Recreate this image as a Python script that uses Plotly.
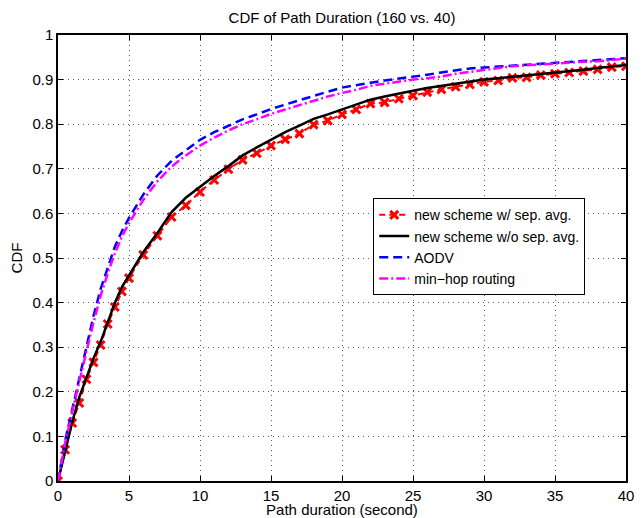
import plotly.graph_objects as go

# x positions (seconds)
x_vals = [0, 0.5, 1, 1.5, 2, 2.5, 3, 3.5, 4, 4.5, 5] + list(range(6, 41))

red_sep = [0, 0.07, 0.13, 0.175, 0.228, 0.266, 0.305, 0.352, 0.39, 0.425, 0.455,
           0.507, 0.55, 0.592, 0.618, 0.648, 0.675, 0.699, 0.72, 0.735, 0.752,
           0.766, 0.779, 0.799, 0.808, 0.822, 0.833, 0.846, 0.849, 0.857, 0.864,
           0.872, 0.878, 0.884, 0.889, 0.895, 0.898, 0.904, 0.905, 0.910, 0.913,
           0.916, 0.919, 0.923, 0.928, 0.930]

black_nosep = [0, 0.068, 0.132, 0.188, 0.234, 0.275, 0.312, 0.358, 0.399, 0.435, 0.462,
               0.513, 0.556, 0.603, 0.635, 0.66, 0.684, 0.706, 0.73, 0.748, 0.765,
               0.782, 0.797, 0.812, 0.822, 0.833, 0.845, 0.855, 0.862, 0.869, 0.875,
               0.881, 0.886, 0.891, 0.896, 0.900, 0.903, 0.906, 0.909, 0.913, 0.916,
               0.919, 0.922, 0.926, 0.929, 0.933]

aodv = [0, 0.09, 0.16, 0.23, 0.30, 0.37, 0.43, 0.48, 0.525, 0.56, 0.59,
        0.642, 0.685, 0.718, 0.741, 0.765, 0.782, 0.797, 0.811, 0.822, 0.834,
        0.844, 0.854, 0.863, 0.873, 0.882, 0.888, 0.893, 0.898, 0.902, 0.907,
        0.911, 0.916, 0.920, 0.925, 0.927, 0.929, 0.932, 0.934, 0.935, 0.937,
        0.939, 0.942, 0.944, 0.946, 0.948]

minhop = [0, 0.085, 0.155, 0.225, 0.29, 0.355, 0.415, 0.465, 0.51, 0.548, 0.578,
          0.63, 0.672, 0.705, 0.73, 0.752, 0.77, 0.786, 0.80, 0.811, 0.823,
          0.833, 0.843, 0.852, 0.862, 0.870, 0.877, 0.886, 0.891, 0.896, 0.900,
          0.903, 0.907, 0.913, 0.917, 0.921, 0.926, 0.930, 0.932, 0.934, 0.937,
          0.938, 0.940, 0.941, 0.944, 0.947]

x_ticks = list(range(0, 41, 5))
y_ticks = [round(i * 0.1, 1) for i in range(11)]

FONT = "Liberation Sans, Arial, Helvetica, sans-serif"

fig = go.Figure()
fig.add_trace(go.Scatter(
    x=x_vals, y=red_sep, mode="lines+markers", name="new scheme w/ sep. avg.",
    line=dict(color="#FF0000", width=2, dash="6px,4px"),
    marker=dict(symbol="x-thin", size=8, color="#FF0000",
                line=dict(color="#FF0000", width=3)),
))
fig.add_trace(go.Scatter(
    x=x_vals, y=black_nosep, mode="lines", name="new scheme w/o sep. avg.",
    line=dict(color="#000000", width=2.5),
))
fig.add_trace(go.Scatter(
    x=x_vals, y=aodv, mode="lines", name="AODV",
    line=dict(color="#0000FF", width=2.5, dash="9px,5px"),
))
fig.add_trace(go.Scatter(
    x=x_vals, y=minhop, mode="lines", name="min\u2212hop routing",
    line=dict(color="#FF00FF", width=2.5, dash="9px,3px,2px,3px"),
))

axis_common = dict(
    showline=True, linecolor="black", linewidth=1.5, mirror="ticks",
    ticks="inside", ticklen=5, tickwidth=1, tickcolor="black",
    showgrid=True, gridcolor="rgb(90,90,90)", gridwidth=1, griddash="1px,4px",
    zeroline=False, automargin=False,
    tickfont=dict(family=FONT, size=15, color="black"),
)

fig.update_xaxes(
    range=[0, 40], tickmode="array", tickvals=x_ticks,
    title=dict(text="Path duration (second)", font=dict(family=FONT, size=15, color="black"),
               standoff=4),
    **axis_common,
)
fig.update_yaxes(
    range=[0, 1], tickmode="array", tickvals=y_ticks,
    ticktext=[("%g" % v) for v in y_ticks],
    title=dict(text="CDF", font=dict(family=FONT, size=15, color="black"), standoff=6),
    **axis_common,
)

fig.update_layout(
    width=641, height=518,
    margin=dict(l=58, r=15, t=35, b=37),
    paper_bgcolor="white", plot_bgcolor="white",
    font=dict(family=FONT, size=15, color="black"),
    title=dict(text="CDF of Path Duration (160 vs. 40)", x=0.5, xref="paper",
               y=1 - 18 / 518, yref="container", yanchor="middle", xanchor="center",
               font=dict(family=FONT, size=15, color="black")),
    showlegend=True,
    legend=dict(x=0.555, y=0.634, xanchor="left", yanchor="top",
                bgcolor="white", bordercolor="black", borderwidth=1,
                font=dict(family=FONT, size=14, color="black"),
                tracegroupgap=0, itemwidth=30),
)

fig.write_html("out.html", config={"displayModeBar": False},
               post_script="document.body.style.margin='0';document.body.style.overflow='hidden';")
